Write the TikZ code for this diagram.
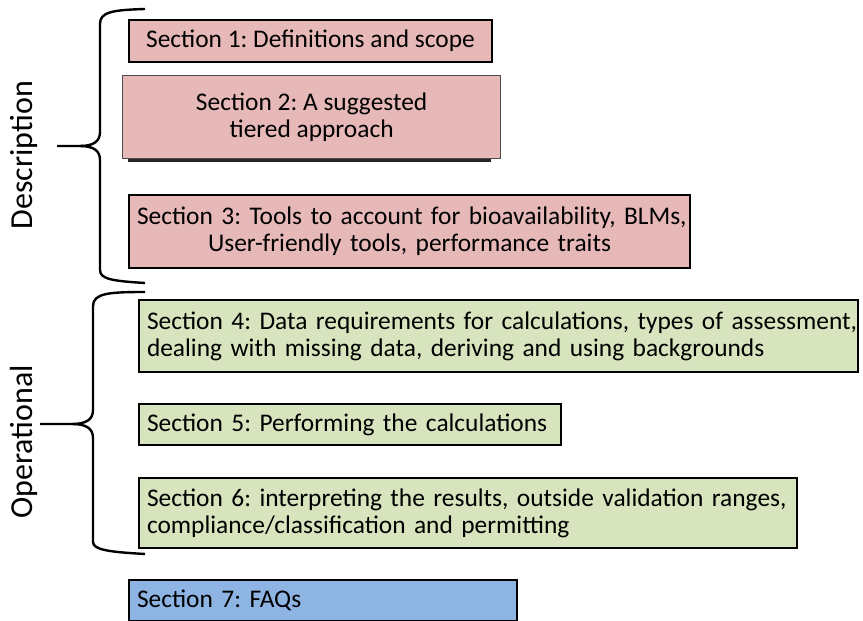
\documentclass[tikz,border=0pt]{standalone}
\usepackage{fontspec}
\setmainfont{Carlito}
\usepackage{tikz}
\usetikzlibrary{shapes,backgrounds}

\definecolor{descpink}{HTML}{E6B9B8}
\definecolor{opgreen}{HTML}{D7E4BD}
\definecolor{faqblue}{HTML}{8EB4E3}

\tikzset{
	secbox/.style={draw=black, line width=1pt, anchor=north west, inner xsep=4pt, inner ysep=0pt,
		font=\fontsize{12.7}{13.5}\selectfont\frenchspacing},
	brace/.style={line width=1.2pt, line join=round},
	sidelabel/.style={rotate=90, font=\fontsize{16}{18}\selectfont}
}

\begin{document}
\begin{tikzpicture}[x=0.5pt, y=-0.5pt]
	\useasboundingbox (0,0) rectangle (863,621);
	
	% draw section boxes
	\node[secbox, fill=descpink, minimum width=181.5pt, minimum height=21pt, align=center] (sec1) at (128,19)
		{Section 1: Definitions and scope};
	
	\fill[black!85] (128,80) rectangle (491,162);
	\node[secbox, fill=descpink, draw=black!70, line width=0.6pt, minimum width=189pt, minimum height=41.5pt, align=center] (sec2) at (122,75)
		{Section 2: A suggested\\tiered approach};
	
	\node[secbox, fill=descpink, minimum width=280.5pt, minimum height=36.5pt, text width=272.5pt, align=center] (sec3) at (128,194)
		{\mbox{Section 3: Tools to account for bioavailability,\ BLMs,}\\\mbox{User-friendly tools, performance traits}};
	
	\node[secbox, fill=opgreen, minimum width=359.5pt, minimum height=36pt, text width=351.5pt, align=left] (sec4) at (138,299)
		{\mbox{Section 4: Data requirements for calculations, types of assessment,}\\\mbox{dealing with missing data, deriving and using backgrounds}};
	
	\node[secbox, fill=opgreen, minimum width=211pt, minimum height=20.5pt, text width=203pt, align=left] (sec5) at (138,403)
		{\mbox{Section 5: Performing the calculations}};
	
	\node[secbox, fill=opgreen, minimum width=329pt, minimum height=35pt, text width=321pt, align=left] (sec6) at (138,477)
		{\mbox{Section 6: interpreting the results, outside validation ranges,}\\\mbox{compliance/classification and permitting}};
	
	\node[secbox, fill=faqblue, minimum width=194pt, minimum height=20.5pt, text width=186pt, align=left] (sec7) at (128,579)
		{\mbox{Section 7: FAQs}};
	
	%%%braces
	\coordinate (desctip) at (57,146);
	\draw[brace] (145,9) .. controls (112,10) and (100,12) .. (100,24) -- (100,132)
		.. controls (100,141) and (94,146) .. (80,146) -- (desctip);
	\draw[brace] (80,146) .. controls (94,146) and (100,151) .. (100,160) -- (100,270)
		.. controls (100,279) and (112,281) .. (145,283);
	
	\coordinate (optip) at (40,424);
	\draw[brace] (145,292) .. controls (110,292) and (93,293) .. (93,306) -- (93,410)
		.. controls (93,419) and (87,424) .. (72,424) -- (optip);
	\draw[brace] (72,424) .. controls (87,424) and (93,429) .. (93,438) -- (93,542)
		.. controls (93,550) and (110,552) .. (145,554);
	
	% draw labels
	\node[sidelabel] (desc) at (24,155) {Description};
	\node[sidelabel] (oper) at (24,442) {Operational};
	
\end{tikzpicture}
\end{document}
